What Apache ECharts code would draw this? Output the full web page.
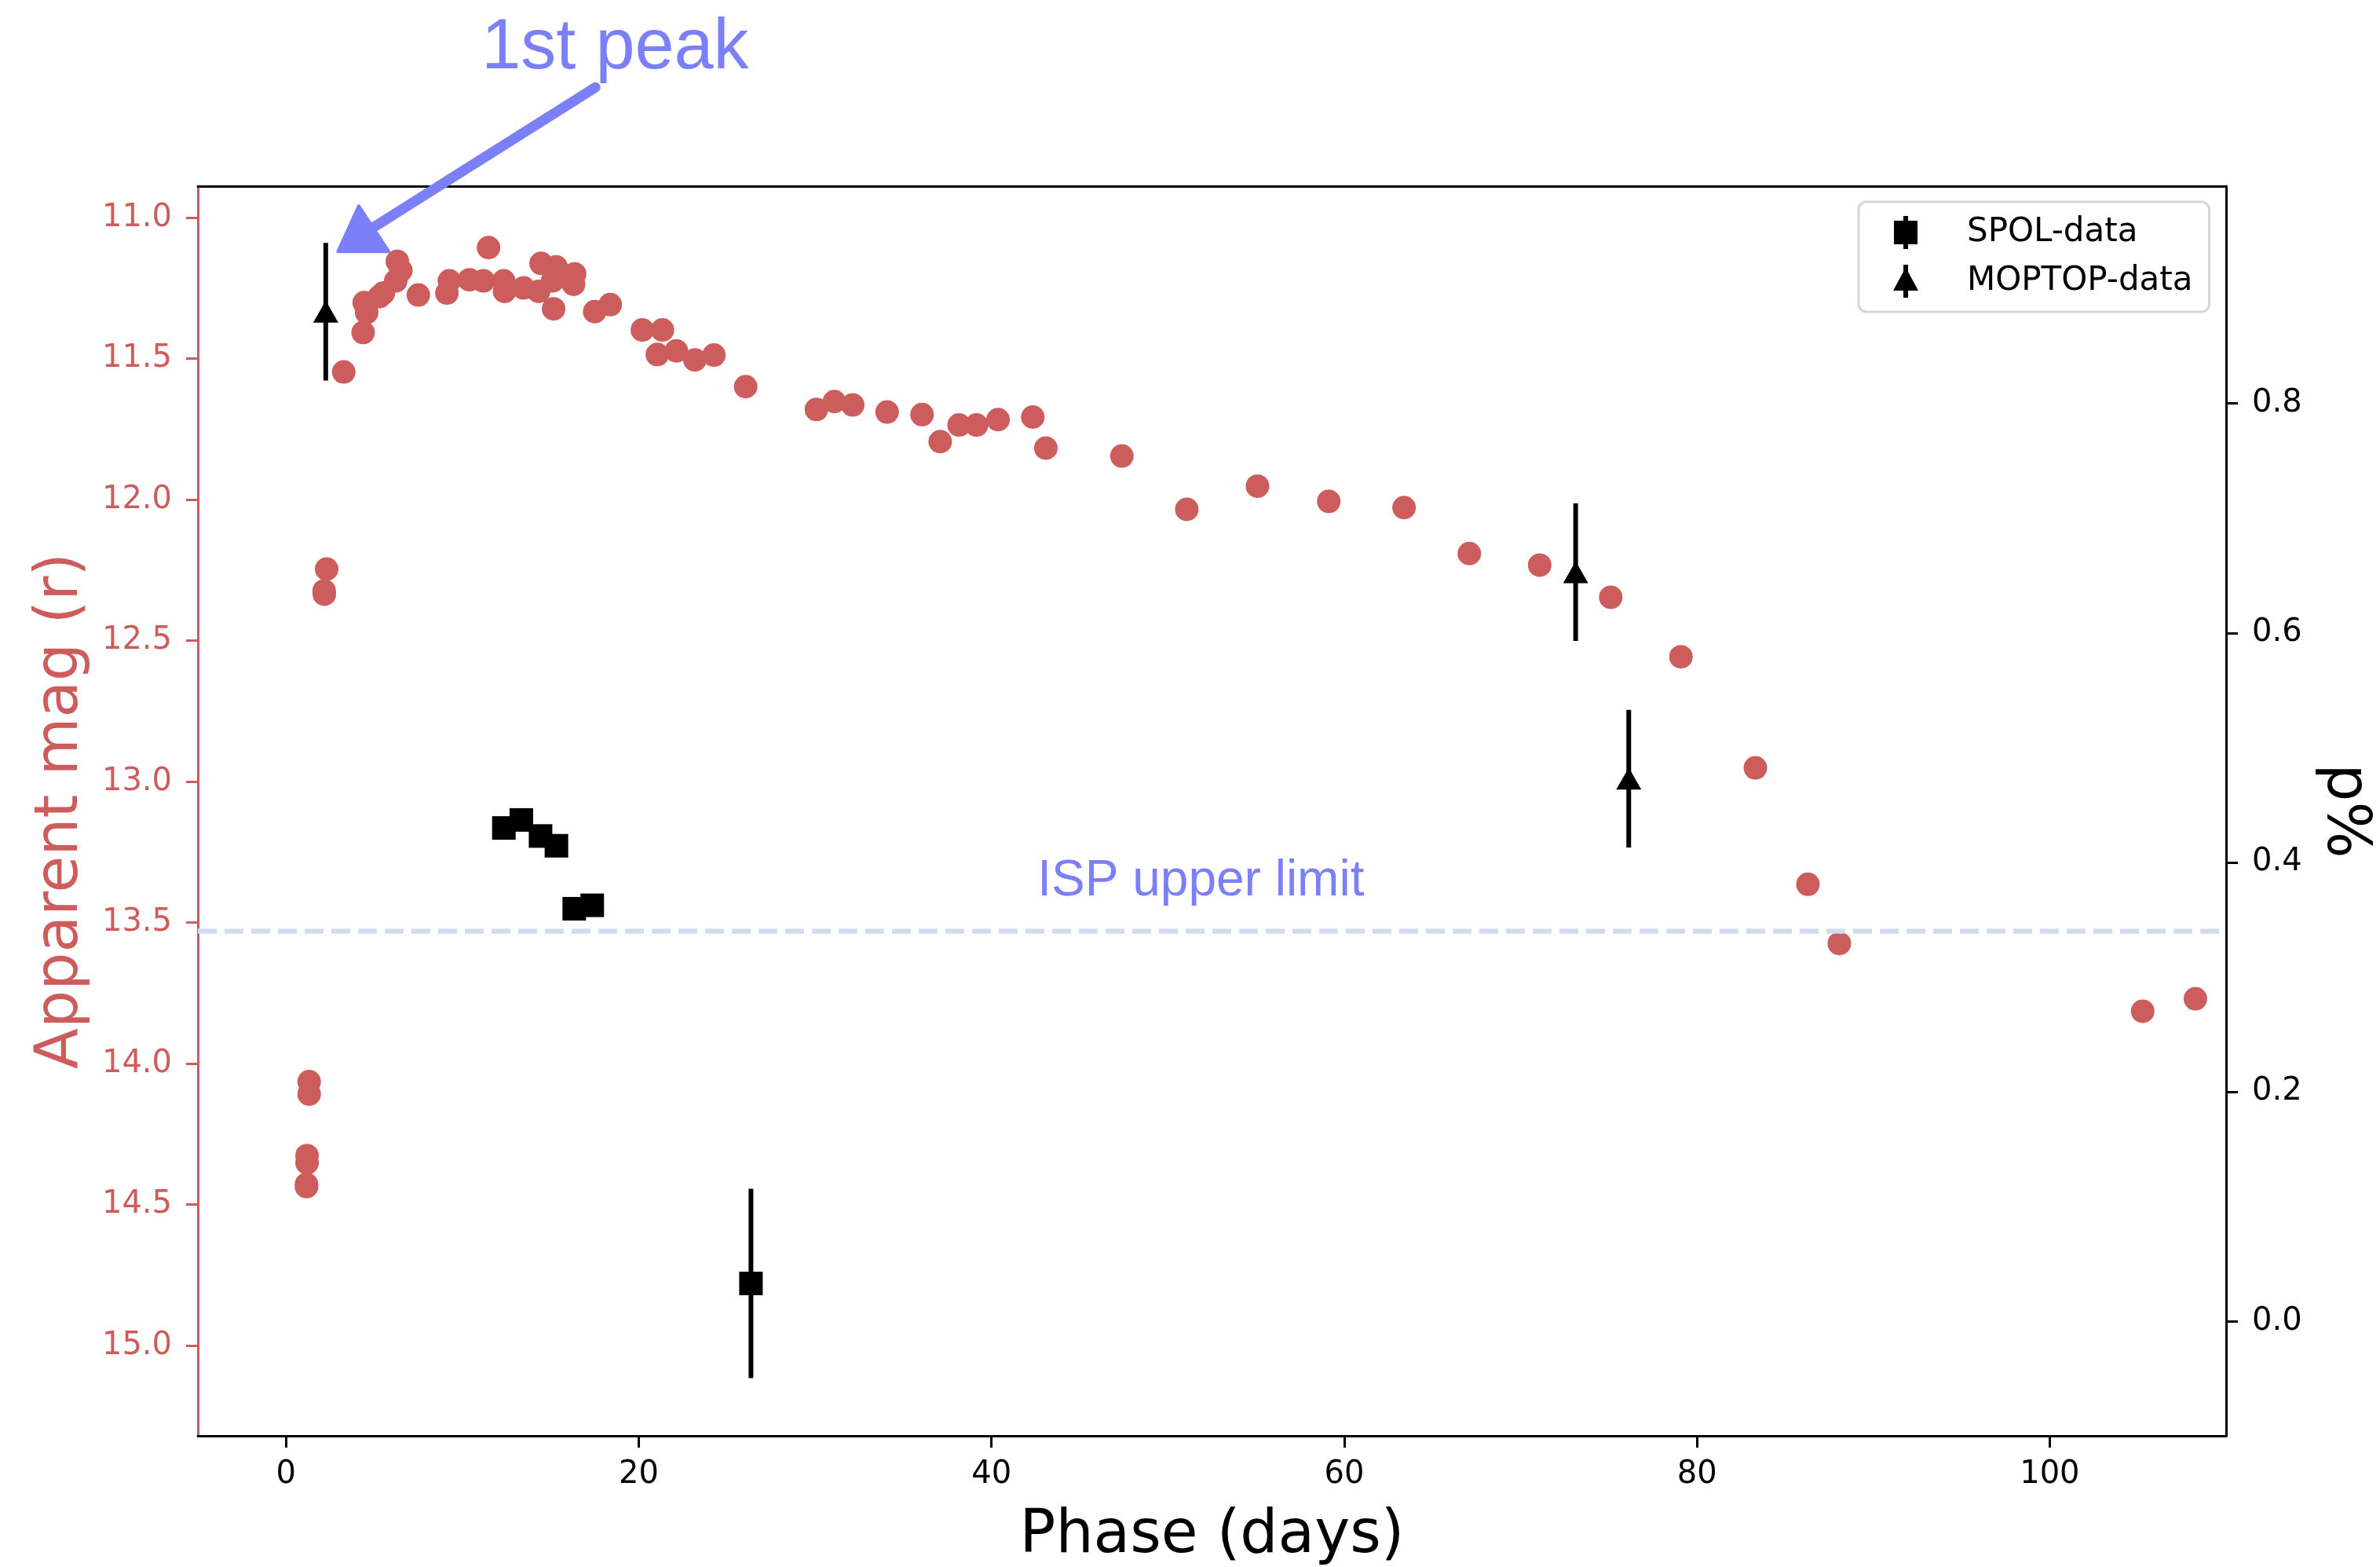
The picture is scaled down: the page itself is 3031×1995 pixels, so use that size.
<!DOCTYPE html>
<html>
<head>
<meta charset="utf-8">
<script src="https://cdn.jsdelivr.net/npm/echarts@6/dist/echarts.min.js"></script>
<style>
  html, body { margin: 0; padding: 0; background: #fff; }
  #chart { width: 3031px; height: 1995px; }
</style>
</head>
<body>
<div id="chart"></div>
<script>
// r-band light curve (left axis, magnitudes)
const magDays = [1.31, 1.31, 1.19, 1.19, 1.16, 1.16, 2.30, 2.16, 2.17, 3.27,
  4.37, 4.57, 4.43, 5.29, 5.52, 6.22, 6.51, 6.31, 7.50, 9.12,
  9.26, 10.40, 11.19, 11.48, 12.39, 12.34, 13.47, 14.46, 14.32, 15.17,
  15.31, 15.11, 16.36, 16.30, 17.50, 18.38, 20.20, 21.34, 21.05, 22.13,
  23.18, 24.26, 26.06, 30.07, 31.09, 32.13, 34.08, 36.06, 37.09, 38.16,
  39.15, 40.37, 42.34, 43.08, 47.39, 51.07, 55.08, 59.12, 63.39, 67.09,
  71.08, 75.11, 79.09, 83.31, 86.29, 88.07, 105.27, 108.26];
const magVals = [14.064, 14.108, 14.326, 14.352, 14.428, 14.436, 12.246, 12.323, 12.335, 11.547,
  11.407, 11.336, 11.301, 11.280, 11.267, 11.224, 11.187, 11.155, 11.274, 11.267,
  11.224, 11.220, 11.224, 11.106, 11.261, 11.224, 11.249, 11.162, 11.261, 11.323,
  11.174, 11.224, 11.199, 11.236, 11.333, 11.308, 11.398, 11.398, 11.485, 11.472,
  11.504, 11.487, 11.599, 11.680, 11.652, 11.664, 11.689, 11.698, 11.794, 11.735,
  11.735, 11.716, 11.707, 11.817, 11.845, 12.034, 11.952, 12.006, 12.028, 12.191,
  12.232, 12.346, 12.557, 12.951, 13.364, 13.574, 13.814, 13.770];

// polarimetry (right axis, p%)
const spolDays = [12.35, 13.34, 14.43, 15.33, 16.34, 17.36, 26.36];
const spolP = [0.430, 0.437, 0.423, 0.4145, 0.3596, 0.3626, 0.033];
const spolErr = [0.008, 0.008, 0.008, 0.008, 0.008, 0.008, 0.0825];
const moptopDays = [2.25, 73.12, 76.13];
const moptopP = [0.880, 0.653, 0.473];
const moptopErr = [0.060, 0.060, 0.060];
const ispLimit = 0.34;

const xTicks = [0, 20, 40, 60, 80, 100];
const magTicks = [11.0, 11.5, 12.0, 12.5, 13.0, 13.5, 14.0, 14.5, 15.0];
const pTicks = [0.0, 0.2, 0.4, 0.6, 0.8];

const RED = '#cd5c5c';
const BLUE = '#7b7ff8';
const FONT = 'DejaVu Sans';

const chart = echarts.init(document.getElementById('chart'));

function errBar(params, api) {
  const x = api.value(0), y = api.value(1), e = api.value(2);
  const a = api.coord([x, y + e]);
  const b = api.coord([x, y - e]);
  return {
    type: 'line',
    shape: { x1: a[0], y1: a[1], x2: b[0], y2: b[1] },
    style: { stroke: '#000', lineWidth: 6 }
  };
}

const spolPath = 'path://M13,0H19V6H31V36H19V42H13V36H1V6H13Z';
const moptopPath = 'path://M13,0H19V9L32,33H19V42H13V33H0L13,9Z';

let option = {
  animation: false,
  backgroundColor: '#fff',
  grid: { left: 252, top: 237, right: 196, bottom: 167, containLabel: false, outerBoundsMode: 'none' },
  legend: {
    data: [{ name: 'SPOL-data', icon: spolPath }, { name: 'MOPTOP-data', icon: moptopPath }],
    orient: 'vertical',
    left: 2367, top: 257,
    padding: [18, 21, 18, 44],
    itemWidth: 32, itemHeight: 42, itemGap: 20,
    borderColor: '#d6d6d6', borderWidth: 3, borderRadius: 10,
    backgroundColor: '#fff',
    textStyle: { fontSize: 42, fontFamily: FONT, color: '#000', padding: [0, 0, 0, 57] }
  },
  xAxis: [{
    type: 'value', min: -5, max: 110, position: 'bottom',
    axisLine: { show: true, onZero: false, lineStyle: { color: '#000', width: 3 } },
    axisTick: { show: true, length: 15, customValues: xTicks, lineStyle: { color: '#000', width: 3 } },
    axisLabel: { customValues: xTicks, fontSize: 40, fontFamily: FONT, color: '#000', margin: 30 },
    splitLine: { show: false },
    name: 'Phase (days)', nameLocation: 'middle', nameGap: 90,
    nameTextStyle: { fontSize: 76, fontFamily: FONT, color: '#000' }
  }, {
    type: 'value', min: -5, max: 110, position: 'top',
    axisLine: { show: true, onZero: false, lineStyle: { color: '#000', width: 3 } },
    axisTick: { show: false }, axisLabel: { show: false }, splitLine: { show: false }
  }],
  yAxis: [{
    type: 'value', inverse: true, min: 10.888, max: 15.32, position: 'left',
    axisLine: { show: true, onZero: false, lineStyle: { color: RED, width: 3 } },
    axisTick: { show: true, length: 15, customValues: magTicks, lineStyle: { color: RED, width: 3 } },
    axisLabel: { customValues: magTicks, fontSize: 40, fontFamily: FONT, color: RED, margin: 33,
      formatter: v => v.toFixed(1) },
    splitLine: { show: false },
    name: 'Apparent mag (r)', nameLocation: 'middle', nameGap: 136, nameRotate: 90,
    nameTextStyle: { fontSize: 76, fontFamily: FONT, color: RED }
  }, {
    type: 'value', min: -0.0998, max: 0.9894, position: 'right',
    axisLine: { show: true, onZero: false, lineStyle: { color: '#000', width: 3 } },
    axisTick: { show: true, length: 15, customValues: pTicks, lineStyle: { color: '#000', width: 3 } },
    axisLabel: { customValues: pTicks, fontSize: 40, fontFamily: FONT, color: '#000', margin: 33,
      formatter: v => v.toFixed(1) },
    splitLine: { show: false },
    name: 'p%', nameLocation: 'middle', nameGap: 112, nameRotate: -90,
    nameTextStyle: { fontSize: 76, fontFamily: FONT, color: '#000' }
  }],
  series: [{
    name: 'mag', type: 'scatter', xAxisIndex: 0, yAxisIndex: 0,
    data: magDays.map((d, i) => [d, magVals[i]]),
    symbol: 'circle', symbolSize: 30,
    itemStyle: { color: RED, opacity: 1 }, z: 2
  }, {
    name: 'spolErr', type: 'custom', xAxisIndex: 0, yAxisIndex: 1,
    data: spolDays.map((d, i) => [d, spolP[i], spolErr[i]]),
    renderItem: errBar, z: 3
  }, {
    name: 'moptopErr', type: 'custom', xAxisIndex: 0, yAxisIndex: 1,
    data: moptopDays.map((d, i) => [d, moptopP[i], moptopErr[i]]),
    renderItem: errBar, z: 3
  }, {
    name: 'SPOL-data', type: 'scatter', xAxisIndex: 0, yAxisIndex: 1,
    data: spolDays.map((d, i) => [d, spolP[i]]),
    symbol: 'rect', symbolSize: 30,
    itemStyle: { color: '#000', opacity: 1 }, z: 4,
    markLine: {
      silent: true, symbol: 'none', label: { show: false },
      lineStyle: { color: '#d1dded', width: 6.5, type: [24, 10] },
      data: [{ yAxis: ispLimit }]
    }
  }, {
    name: 'MOPTOP-data', type: 'scatter', xAxisIndex: 0, yAxisIndex: 1,
    data: moptopDays.map((d, i) => [d, moptopP[i]]),
    symbol: 'triangle', symbolSize: [32, 28],
    itemStyle: { color: '#000', opacity: 1 }, z: 4
  }]
};
chart.setOption(option);

// annotations, placed in data coordinates
const magPx = p => chart.convertToPixel({ xAxisIndex: 0, yAxisIndex: 0 }, p);
const pPx = p => chart.convertToPixel({ xAxisIndex: 0, yAxisIndex: 1 }, p);
const arrowTail = magPx([17.54, 10.538]);
const arrowEnd = magPx([4.72, 11.043]);
const headPts = [[4.12, 10.958], [2.94, 11.12], [5.83, 11.12]].map(magPx);
const peakPos = magPx([18.66, 10.40]);
const ispPos = pPx([51.87, 0.383]);

chart.setOption({
  graphic: [{
    type: 'line', silent: true, z: 10,
    shape: { x1: arrowTail[0], y1: arrowTail[1], x2: arrowEnd[0], y2: arrowEnd[1] },
    style: { stroke: BLUE, lineWidth: 13, lineCap: 'round' }
  }, {
    type: 'polygon', silent: true, z: 10,
    shape: { points: headPts },
    style: { fill: BLUE, stroke: BLUE, lineWidth: 4, lineJoin: 'round' }
  }, {
    type: 'text', silent: true, z: 10, x: peakPos[0], y: peakPos[1],
    style: { text: '1st peak', fill: BLUE, fontSize: 90, fontFamily: 'Liberation Sans',
      align: 'center', verticalAlign: 'middle' }
  }, {
    type: 'text', silent: true, z: 10, x: ispPos[0], y: ispPos[1],
    style: { text: 'ISP upper limit', fill: BLUE, fontSize: 64, fontFamily: 'Liberation Sans',
      align: 'center', verticalAlign: 'middle' }
  }]
});
</script>
</body>
</html>
